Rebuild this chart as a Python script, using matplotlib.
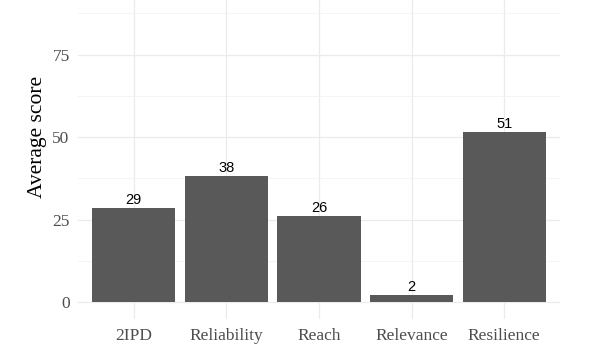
import matplotlib.pyplot as plt
import numpy as np

# data
categories = ['2IPD', 'Reliability', 'Reach', 'Relevance', 'Resilience']
scores = [28.6, 38.3, 26.1, 2.2, 51.4]
bar_labels = ['29', '38', '26', '2', '51']
y_ticks = [0, 25, 50, 75]

fig = plt.figure(figsize=(6, 3.5), dpi=100)
# panel runs past the top edge of the picture (reference looks cropped)
ax = fig.add_axes([0.13, 0.09, 0.803, 1.037])

x = np.arange(len(categories))
ax.bar(x, scores, width=0.9, color='#595959', zorder=2)

for xi, v, lab in zip(x, scores, bar_labels):
    ax.text(xi, v + 0.3, lab, ha='center', va='bottom', fontsize=10.5,
            family='Liberation Sans', color='black', zorder=3)

ax.set_xlim(-0.6, len(categories) - 0.4)
ax.set_ylim(-5, 105)

ax.set_xticks(x)
ax.set_xticklabels(categories, family='Liberation Serif', fontsize=12.5, color='#4d4d4d')
ax.set_yticks(y_ticks)
ax.set_yticklabels([str(t) for t in y_ticks], family='Liberation Serif', fontsize=12.5, color='#4d4d4d')
ax.set_yticks([12.5, 37.5, 62.5, 87.5], minor=True)

ax.tick_params(axis='both', which='both', length=0)
ax.tick_params(axis='x', pad=7)
ax.tick_params(axis='y', pad=6)

ax.grid(axis='y', which='major', color='#ebebeb', linewidth=0.9, zorder=0)
ax.grid(axis='y', which='minor', color='#f2f2f2', linewidth=0.6, zorder=0)
ax.grid(axis='x', which='major', color='#ebebeb', linewidth=0.9, zorder=0)
ax.axhline(100, color='#ebebeb', linewidth=0.9, zorder=0)

for s in ax.spines.values():
    s.set_visible(False)

ax.set_ylabel('Average score', family='Liberation Serif', fontsize=15.5, color='black', labelpad=4)

fig.savefig('out.png', dpi=100)
